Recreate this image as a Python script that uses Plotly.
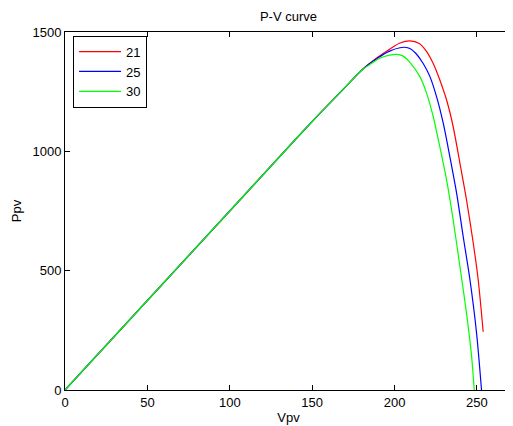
import plotly.graph_objects as go

# Data (V in volts, P in watts)
v21 = [0, 50, 100, 150, 170, 180, 190, 197, 203, 209.3, 215, 219.5, 223.5,
       227.5, 231.6, 235.6, 239.7, 243.7, 247.8, 250.8, 253.8]
p21 = [0, 375, 750, 1125, 1268, 1340, 1395, 1428, 1453, 1463, 1452, 1418, 1368,
       1299, 1215, 1103, 950, 796, 615, 461, 244]

v25 = [0, 50, 100, 150, 170, 180, 190, 197, 203.3, 206.3, 209.3, 213, 217.4, 221.5,
       225.5, 229.6, 233.6, 237.7, 241.7, 245.8, 249.8, 252.8]
p25 = [0, 375, 750, 1125, 1268, 1340, 1392, 1420, 1434, 1436, 1431, 1410, 1368, 1313,
       1229, 1117, 977, 824, 642, 461, 238, 0]

v30 = [0, 50, 100, 150, 170, 180, 186, 191, 197, 201.3, 205, 209.3, 215.4, 219.5,
       223.5, 227.5, 231.6, 235.6, 239.7, 243.7, 246.8, 248.4]
p30 = [0, 375, 750, 1125, 1268, 1340, 1368, 1390, 1403, 1406, 1400, 1373, 1313, 1243,
       1145, 1019, 880, 712, 517, 321, 140, 0]

series_names = ["21", "25", "30"]
series_colors = ["#ff0000", "#0000ff", "#00ff00"]

x_ticks = [0, 50, 100, 150, 200, 250]
y_ticks = [0, 500, 1000, 1500]

fig = go.Figure()
for name, vx, py, col in zip(series_names, [v21, v25, v30], [p21, p25, p30], series_colors):
    fig.add_trace(go.Scatter(x=vx, y=py, mode="lines", name=name,
                             line=dict(color=col, width=1.2, shape="spline", smoothing=0.8)))

font = dict(family="Liberation Sans, Arial, sans-serif", size=13, color="black")
axis_common = dict(showline=True, linecolor="black", linewidth=1, mirror="ticks",
                   ticks="inside", ticklen=5, tickcolor="black", showgrid=False,
                   zeroline=False, tickfont=font)

# the page body has an 8px margin, so the figure is sized to fit the window
W, H = 505, 418
fig.update_layout(
    width=W, height=H,
    margin=dict(l=57, r=1, t=24, b=36),
    paper_bgcolor="white", plot_bgcolor="white",
    font=font,
    title=dict(text="P-V curve", x=280.5 / W, xanchor="center",
               y=1 - 8 / H, yanchor="middle", font=font),
    xaxis=dict(range=[0, 271.3], tickvals=x_ticks,
               title=dict(text="Vpv", font=font, standoff=4), **axis_common),
    yaxis=dict(range=[0, 1500], tickvals=y_ticks,
               title=dict(text="Ppv", font=font, standoff=7), **axis_common),
    legend=dict(x=0.018, y=0.99, xanchor="left", yanchor="top",
                bordercolor="black", borderwidth=1, bgcolor="white",
                font=font, tracegroupgap=0, itemwidth=42),
    showlegend=True,
)

fig.write_html("out.html")
